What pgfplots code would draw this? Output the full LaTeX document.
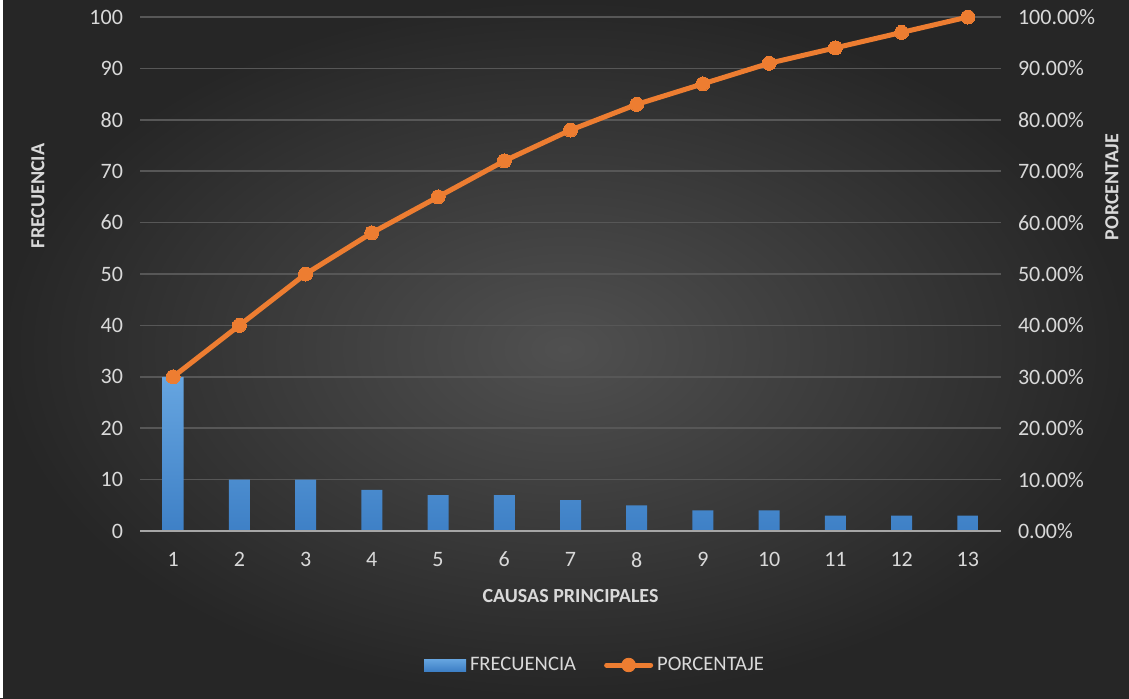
\documentclass[border=0pt]{standalone}
\usepackage{pgfplots}
\pgfplotsset{compat=1.18}
\usepackage{fontspec}
\setmainfont{Carlito}

\definecolor{bgin}{HTML}{505050}
\definecolor{bgout}{HTML}{262626}
\definecolor{txt}{HTML}{D9D9D9}
\definecolor{gridc}{HTML}{575757}
\definecolor{basec}{HTML}{A6A6A6}
\definecolor{bartop}{HTML}{66A5E0}
\definecolor{barbot}{HTML}{3E80C6}
\definecolor{orangec}{HTML}{ED7D31}

\pgfplotsset{
  common/.style={
    at={(70pt,83.5pt)}, anchor=south west,
    width=430.5pt, height=257pt, scale only axis,
    xmin=0.5, xmax=13.5, ymin=0, ymax=100,
    ytick={0,10,...,100},
    axis line style={draw=none},
    tick style={draw=none},
    /pgf/number format/assume math mode=true,
    ticklabel style={font=\fontsize{11}{13}\selectfont, text=txt},
  },
}

\begin{document}
\begin{tikzpicture}[x=1pt,y=1pt]
% background (1px = 0.5pt)
\useasboundingbox (0,0) rectangle (564.5,349);
\shade[inner color=bgin, outer color=bgout] (0,0) rectangle (564.5,349);
\fill[white] (0,0) rectangle (1.5,349);

% frequency bars, left axis
\begin{axis}[
  common,
  xtick={1,...,13},
  ymajorgrids, grid style={gridc, line width=0.8pt},
  yticklabel style={xshift=-5pt},
  xticklabel style={yshift=-7pt},
  xlabel={\textbf{CAUSAS PRINCIPALES}},
  xlabel style={font=\fontsize{10}{12}\selectfont, text=txt,
    at={(axis description cs:0.5,-0.1265)}, anchor=center},
  ylabel={\textbf{FRECUENCIA}},
  ylabel style={font=\fontsize{10}{12}\selectfont, text=txt,
    at={(axis description cs:-0.1185,0.652)}, anchor=center},
  legend style={at={(axis description cs:0.5296,-0.2607)}, anchor=center,
    draw=none, fill=none, legend columns=2,
    font=\fontsize{10.3}{12}\selectfont, text=txt,
    /tikz/every even column/.append style={column sep=12pt}},
  legend cell align=left,
  legend image code/.code={\fill[top color=bartop, bottom color=barbot, draw=none] (0pt,-3pt) rectangle (21pt,3pt);},
]
\addplot[ybar, bar width=10.5pt, draw=none, top color=bartop, bottom color=barbot]
  coordinates {(1,30) (2,10) (3,10) (4,8) (5,7) (6,7) (7,6) (8,5) (9,4) (10,4) (11,3) (12,3) (13,3)};
\addlegendentry{FRECUENCIA}
\addlegendimage{legend image code/.code={
    \draw[orangec, line width=2.5pt, line cap=round] (0pt,0pt) -- (22pt,0pt);
    \fill[orangec] (11pt,0pt) circle (3.4pt);}}
\addlegendentry{PORCENTAJE}
\draw[basec, line width=1.2pt] (rel axis cs:0,0) -- (rel axis cs:1,0);
\end{axis}

% cumulative percentage, right axis
\begin{axis}[
  common,
  axis x line=none,
  axis y line*=right,
  yticklabel={\pgfmathprintnumber[fixed, fixed zerofill, precision=2]{\tick}\%},
  yticklabel style={xshift=5pt},
  ylabel={\textbf{PORCENTAJE}},
  ylabel style={font=\fontsize{10}{12}\selectfont, text=txt,
    at={(axis description cs:1.1289,0.669)}, anchor=center},
  clip=false,
]
\addplot[orangec, line width=2.5pt, mark=*, mark size=3.5pt, mark options={fill=orangec, draw=orangec, line width=0pt}]
  coordinates {(1,30) (2,40) (3,50) (4,58) (5,65) (6,72) (7,78) (8,83) (9,87) (10,91) (11,94) (12,97) (13,100)};
\end{axis}
\end{tikzpicture}
\end{document}
